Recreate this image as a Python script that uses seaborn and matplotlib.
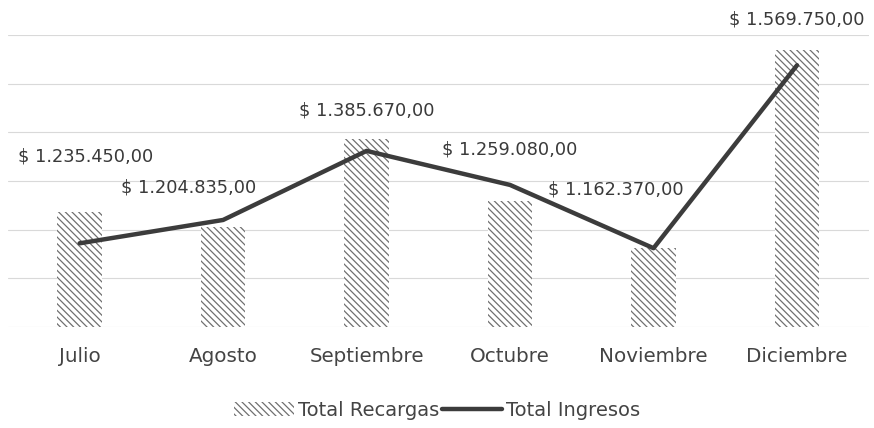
import matplotlib
matplotlib.use("Agg")
import matplotlib.pyplot as plt
import seaborn as sns
import pandas as pd
from matplotlib.patches import Patch
from matplotlib.lines import Line2D

# Data
meses = ["Julio", "Agosto", "Septiembre", "Octubre", "Noviembre", "Diciembre"]
total_recargas = [1235450, 1204835, 1385670, 1259080, 1162370, 1569750]
total_ingresos = [1172000, 1220000, 1362000, 1292000, 1162000, 1538000]
etiquetas = ["$ 1.235.450,00", "$ 1.204.835,00", "$ 1.385.670,00",
             "$ 1.259.080,00", "$ 1.162.370,00", "$ 1.569.750,00"]

# label offsets (points) relative to the bar top, as dragged in the original
label_dx = [4, -25, 0, 0, -27, 0]
label_dy = [40, 29, 21, 37, 42, 22]

df = pd.DataFrame({"Mes": meses, "Recargas": total_recargas, "Ingresos": total_ingresos})

sns.set_style("white")
plt.rcParams["font.family"] = ["DejaVu Sans"]
plt.rcParams["hatch.linewidth"] = 0.9

fig = plt.figure(figsize=(8.74, 4.28), dpi=100)
ax = fig.add_axes([0.009, 0.236, 0.985, 0.682])

sns.barplot(data=df, x="Mes", y="Recargas", ax=ax, width=0.31,
            color="white", edgecolor="#707070", linewidth=0, hatch="\\\\\\\\\\")
ax.plot(range(len(meses)), df["Ingresos"], color="#3c3c3c", lw=3.2,
        solid_joinstyle="round", zorder=3)

for i, (v, t) in enumerate(zip(total_recargas, etiquetas)):
    ax.annotate(t, (i, v), xytext=(label_dx[i], label_dy[i]), textcoords="offset points",
                ha="center", va="center", fontsize=12.8, color="#3a3a3a")

ax.set_ylim(1000000, 1600000)
ax.set_xlim(-0.5, len(meses) - 0.5)
ax.set_yticks(range(1000000, 1600001, 100000))
ax.yaxis.grid(True, color="#d9d9d9", lw=0.8)
ax.set_axisbelow(True)
ax.tick_params(axis="y", left=False, labelleft=False)
ax.tick_params(axis="x", bottom=False, labelsize=14.3, labelcolor="#444444", pad=11)
ax.set_xlabel("")
ax.set_ylabel("")
sns.despine(ax=ax, left=True, bottom=True)

handles = [Patch(facecolor="white", edgecolor="#707070", linewidth=0, hatch="\\\\\\\\\\"),
           Line2D([], [], color="#3c3c3c", lw=3.2)]
fig.legend(handles, ["Total Recargas", "Total Ingresos"], loc="center",
           bbox_to_anchor=(0.5, 0.042), ncol=2, frameon=False, fontsize=14,
           handlelength=3.1, handletextpad=0.2, columnspacing=0.1,
           labelcolor="#444444")

fig.savefig("out.png", dpi=100)
